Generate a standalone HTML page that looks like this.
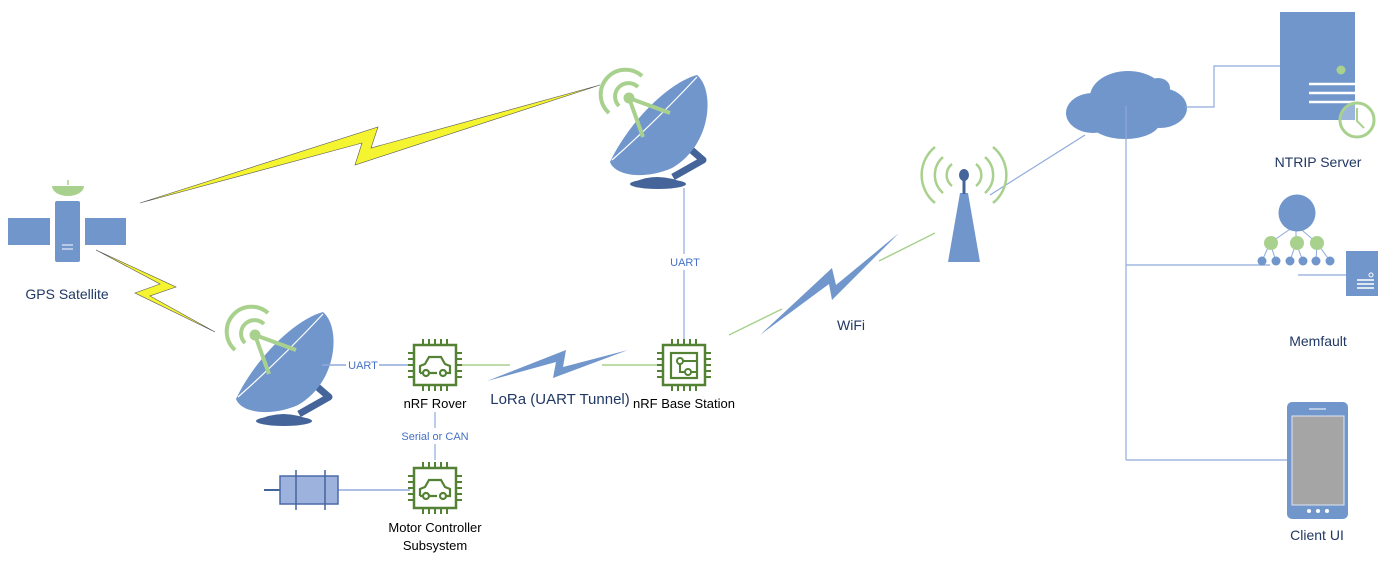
<!DOCTYPE html>
<html><head><meta charset="utf-8"><style>
html,body{margin:0;padding:0;background:#fff;}
svg{display:block;}
text{font-family:"Liberation Sans",sans-serif;}
</style></head><body>
<svg width="1392" height="566" viewBox="0 0 1392 566" xmlns="http://www.w3.org/2000/svg">
<defs>
<g id="dish">
  <path d="M83,117 L113,100 L98,87" fill="none" stroke="#44649a" stroke-width="7" stroke-linejoin="round"/>
  <path d="M40,124 Q67,110 96,124 Z" fill="#44649a"/>
  <ellipse cx="68" cy="124" rx="28" ry="5" fill="#44649a"/>
  <path d="M20,102 C40,60 80,22 107,15 C125,30 122,85 82,108 C55,120 25,116 20,102 Z" fill="#7096cc"/>
  <path d="M22,100 Q65,62 107,17" fill="none" stroke="#fff" stroke-width="1.2"/>
  <line x1="39" y1="38" x2="80" y2="53" stroke="#a9d18e" stroke-width="4"/>
  <line x1="39" y1="38" x2="53" y2="77" stroke="#a9d18e" stroke-width="4"/>
  <circle cx="39" cy="38" r="5.5" fill="#a9d18e"/>
  <path d="M29,46 A13,13 0 0 1 48,27" fill="none" stroke="#a9d18e" stroke-width="4"/>
  <path d="M19,53 A24,24 0 0 1 52,16" fill="none" stroke="#a9d18e" stroke-width="4"/>
</g>
<g id="chip" fill="none" stroke="#548235">
  <rect x="-21" y="-20" width="42" height="40" stroke-width="2.5" fill="#fff"/>
  <g stroke-width="2">
    <path d="M-12,-20v-6M-6,-20v-6M0,-20v-6M6,-20v-6M12,-20v-6"/>
    <path d="M-12,20v6M-6,20v6M0,20v6M6,20v6M12,20v6"/>
    <path d="M-21,-12h-6M-21,-6h-6M-21,0h-6M-21,6h-6M-21,12h-6"/>
    <path d="M21,-12h6M21,-6h6M21,0h6M21,6h6M21,12h6"/>
  </g>
</g>
<g id="car" fill="none" stroke="#548235" stroke-width="2.2">
  <path d="M-15,6 v-7 l5,-2 l4,-7 h12 l4,7 l5,2 v7 h-4 M-7,6 h9 M-15,6 h3"/>
  <circle cx="-9" cy="6" r="3"/><circle cx="8" cy="6" r="3"/>
</g>
</defs>

<!-- yellow bolts -->
<polygon points="140,203 378,127 371,148 600,85 355,165 362,143" fill="#f4f431" stroke="#555" stroke-width="0.6"/>
<polygon points="96,250 176,287 150,296 215,332 135,293 160,284" fill="#f4f431" stroke="#555" stroke-width="0.6"/>

<!-- satellite -->
<rect x="8" y="218" width="42" height="27" fill="#7096cc"/>
<rect x="85" y="218" width="41" height="27" fill="#7096cc"/>
<rect x="55" y="201" width="25" height="61" rx="2" fill="#7096cc"/>
<line x1="62" y1="245" x2="73" y2="245" stroke="#fff" stroke-width="1"/>
<line x1="62" y1="249" x2="73" y2="249" stroke="#fff" stroke-width="1"/>
<path d="M52,186 A16,10 0 0 0 84,186 Z" fill="#a9d18e"/>
<line x1="68" y1="180" x2="68" y2="185" stroke="#a9d18e" stroke-width="1.5"/>
<text x="67" y="299" font-size="14" fill="#203864" text-anchor="middle">GPS Satellite</text>

<!-- dishes -->
<use href="#dish" x="590" y="60"/>
<use href="#dish" x="216" y="297"/>

<!-- connectors -->
<line x1="684" y1="188" x2="684" y2="345" stroke="#8faadc" stroke-width="1.2"/>
<rect x="667" y="254" width="34" height="16" fill="#fff"/>
<text x="685" y="266" font-size="11" fill="#4472c4" text-anchor="middle">UART</text>

<line x1="322" y1="365" x2="408" y2="365" stroke="#8faadc" stroke-width="1.5"/>
<rect x="346" y="357" width="33" height="16" fill="#fff"/>
<text x="363" y="369" font-size="11" fill="#4472c4" text-anchor="middle">UART</text>

<line x1="457" y1="365" x2="510" y2="365" stroke="#a9d18e" stroke-width="1.5"/>
<line x1="602" y1="365" x2="660" y2="365" stroke="#a9d18e" stroke-width="1.5"/>
<polygon points="487,381 566,350 563,367 628,350 553,378 556,362" fill="#7096cc"/>

<line x1="435" y1="412" x2="435" y2="460" stroke="#8faadc" stroke-width="1.2"/>
<rect x="398" y="428" width="74" height="16" fill="#fff"/>
<text x="435" y="440" font-size="11" fill="#4472c4" text-anchor="middle">Serial or CAN</text>

<line x1="338" y1="490" x2="410" y2="490" stroke="#8faadc" stroke-width="1.5"/>

<!-- motor -->
<line x1="264" y1="490" x2="280" y2="490" stroke="#44649a" stroke-width="2"/>
<rect x="280" y="476" width="58" height="28" fill="#9db3dd" stroke="#4a6aa8" stroke-width="1.5"/>
<line x1="296" y1="470" x2="296" y2="510" stroke="#44649a" stroke-width="1.5"/>
<line x1="325" y1="470" x2="325" y2="510" stroke="#44649a" stroke-width="1.5"/>

<!-- chips -->
<use href="#chip" x="435" y="365"/><use href="#car" x="435" y="367"/>
<use href="#chip" x="435" y="488"/><use href="#car" x="435" y="490"/>
<use href="#chip" x="684" y="365"/>
<rect x="671" y="353" width="26" height="25" fill="none" stroke="#548235" stroke-width="2.2"/>
<g fill="none" stroke="#548235" stroke-width="2"><circle cx="680" cy="361" r="3"/><circle cx="688" cy="372" r="3"/><path d="M680,364 v8 h5 M691,372 h6 M683,361 h14"/></g>

<text x="435" y="408" font-size="13" fill="#000" text-anchor="middle">nRF Rover</text>
<text x="684" y="408" font-size="13" fill="#000" text-anchor="middle">nRF Base Station</text>
<text x="560" y="404" font-size="15" fill="#203864" text-anchor="middle">LoRa (UART Tunnel)</text>
<text x="435" y="532" font-size="13" fill="#000" text-anchor="middle">Motor Controller</text>
<text x="435" y="550" font-size="13" fill="#000" text-anchor="middle">Subsystem</text>

<!-- wifi -->
<line x1="729" y1="335" x2="782" y2="309" stroke="#a9d18e" stroke-width="1.5"/>
<line x1="879" y1="261" x2="935" y2="233" stroke="#a9d18e" stroke-width="1.5"/>
<polygon points="760,335 832,268 836,285 899,233 832,300 829,284" fill="#7096cc"/>
<text x="851" y="330" font-size="14" fill="#203864" text-anchor="middle">WiFi</text>

<!-- tower -->
<line x1="990" y1="195" x2="1085" y2="135" stroke="#8faadc" stroke-width="1.2"/>
<polygon points="960,193 968,193 980,262 948,262" fill="#7096cc"/>
<line x1="964" y1="176" x2="964" y2="194" stroke="#44649a" stroke-width="3"/>
<ellipse cx="964" cy="175" rx="5" ry="6" fill="#44649a"/>
<g fill="none" stroke="#a9d18e" stroke-width="2.5">
<path d="M952,164 A14,14 0 0 0 952,186"/><path d="M976,164 A14,14 0 0 1 976,186"/>
<path d="M943,157 A24,24 0 0 0 943,193"/><path d="M985,157 A24,24 0 0 1 985,193"/>
<path d="M935,147 A36,36 0 0 0 935,203"/><path d="M993,147 A36,36 0 0 1 993,203"/>
</g>

<!-- cloud -->
<g fill="#7096cc">
<ellipse cx="1093" cy="113" rx="27" ry="20"/>
<ellipse cx="1128" cy="97" rx="38" ry="26"/>
<ellipse cx="1160" cy="108" rx="27" ry="20"/>
<ellipse cx="1125" cy="122" rx="35" ry="17"/>
<ellipse cx="1158" cy="88" rx="12" ry="10"/>
</g>
<line x1="1126" y1="106" x2="1126" y2="460" stroke="#8faadc" stroke-width="1.2"/>
<line x1="1126" y1="265" x2="1270" y2="265" stroke="#8faadc" stroke-width="1.2"/>
<line x1="1126" y1="460" x2="1287" y2="460" stroke="#8faadc" stroke-width="1.2"/>
<polyline points="1185,107 1214,107 1214,66 1280,66" fill="none" stroke="#8faadc" stroke-width="1.2"/>

<!-- NTRIP server -->
<rect x="1280" y="12" width="75" height="108" fill="#7096cc"/>
<circle cx="1341" cy="70" r="4.5" fill="#a9d18e"/>
<g stroke="#fff" stroke-width="2.5"><line x1="1309" y1="84" x2="1355" y2="84"/><line x1="1309" y1="93" x2="1355" y2="93"/><line x1="1309" y1="102" x2="1355" y2="102"/></g>
<circle cx="1357" cy="120" r="17" fill="#fff" fill-opacity="0.3" stroke="#a9d18e" stroke-width="3"/>
<path d="M1357,108 v13 l7,7" fill="none" stroke="#a9d18e" stroke-width="2"/>
<text x="1318" y="167" font-size="14" fill="#203864" text-anchor="middle">NTRIP Server</text>

<!-- Memfault -->
<g stroke="#8faadc" stroke-width="1"><line x1="1296" y1="225" x2="1270" y2="243"/><line x1="1296" y1="225" x2="1296" y2="243"/><line x1="1296" y1="225" x2="1317" y2="243"/>
<path d="M1270,243 L1262,261 M1270,243 L1276,261 M1296,243 L1290,261 M1296,243 L1303,261 M1317,243 L1316,261 M1317,243 L1330,261"/></g>
<circle cx="1297" cy="213" r="18.5" fill="#7096cc"/>
<circle cx="1271" cy="243" r="7" fill="#a9d18e"/><circle cx="1297" cy="243" r="7" fill="#a9d18e"/><circle cx="1317" cy="243" r="7" fill="#a9d18e"/>
<g fill="#7096cc"><circle cx="1262" cy="261" r="4.5"/><circle cx="1276" cy="261" r="4.5"/><circle cx="1290" cy="261" r="4.5"/><circle cx="1303" cy="261" r="4.5"/><circle cx="1316" cy="261" r="4.5"/><circle cx="1330" cy="261" r="4.5"/></g>
<line x1="1298" y1="275" x2="1346" y2="275" stroke="#8faadc" stroke-width="1.2"/>
<rect x="1346" y="251" width="32" height="45" fill="#7096cc"/>
<circle cx="1371" cy="275" r="2" fill="none" stroke="#fff" stroke-width="1"/>
<g stroke="#fff" stroke-width="1.5"><line x1="1357" y1="280" x2="1374" y2="280"/><line x1="1357" y1="284" x2="1374" y2="284"/><line x1="1357" y1="288" x2="1374" y2="288"/></g>
<text x="1318" y="346" font-size="14" fill="#203864" text-anchor="middle">Memfault</text>

<!-- phone -->
<rect x="1287" y="402" width="61" height="117" rx="5" fill="#7096cc"/>
<rect x="1292" y="416" width="52" height="89" fill="#a5a5a5" stroke="#dfe6f2" stroke-width="1"/>
<line x1="1309" y1="409" x2="1326" y2="409" stroke="#fff" stroke-width="1"/>
<g fill="#fff"><circle cx="1309" cy="511" r="2"/><circle cx="1318" cy="511" r="2"/><circle cx="1327" cy="511" r="2"/></g>
<text x="1317" y="540" font-size="14" fill="#203864" text-anchor="middle">Client UI</text>
</svg>
</body></html>
